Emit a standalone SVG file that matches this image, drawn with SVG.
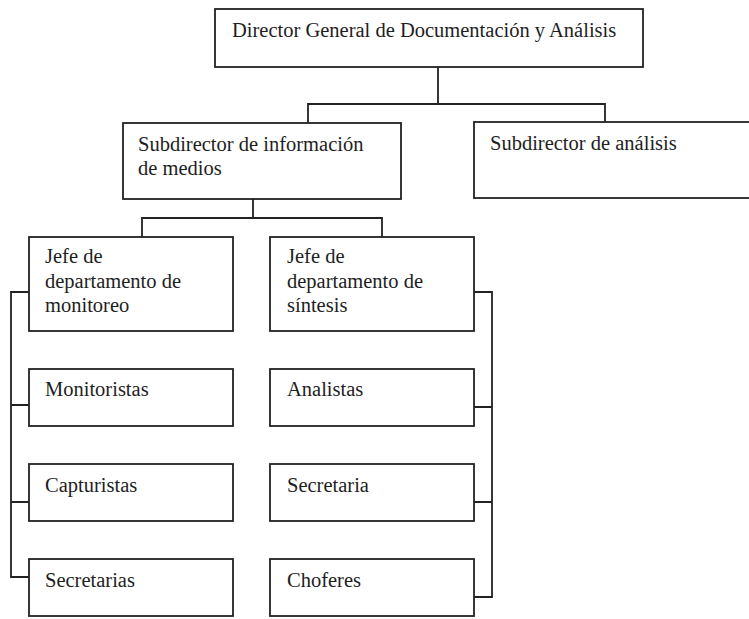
<svg xmlns="http://www.w3.org/2000/svg" width="749" height="619" viewBox="0 0 749 619">
<style>
.box{fill:#fff;stroke:#222;stroke-width:1.8}
.t{font-family:"Liberation Serif","Times New Roman",serif;font-size:20.5px;fill:#1e1e1e}
.c{fill:none;stroke:#222;stroke-width:1.8}
</style>
<rect width="749" height="619" fill="#fff"/>
<g id="connectors">
<path class="c" d="M438 67V104M308 123V104H605V122"/>
<path class="c" d="M253 199V218M142 237V218H382V237"/>
<path class="c" d="M29 292H11V577H29M11 405H29M11 502H29"/>
<path class="c" d="M474 292H492V597H474M492 407H474M492 502H474"/>
</g>
<g id="director"><rect class="box" x="215" y="9" width="428" height="58"/><text class="t" x="232" y="37">Director General de Documentación y Análisis</text></g>
<g id="sub-info"><rect class="box" x="123" y="123" width="278" height="76"/><text class="t" x="138" y="151">Subdirector de información</text><text class="t" x="138" y="175">de medios</text></g>
<g id="sub-analisis"><rect class="box" x="474" y="122" width="280" height="76"/><text class="t" x="490" y="150">Subdirector de análisis</text></g>
<g id="jefe-monitoreo"><rect class="box" x="29" y="237" width="204" height="94"/><text class="t" x="45" y="263">Jefe de</text><text class="t" x="45" y="287.5">departamento de</text><text class="t" x="45" y="312">monitoreo</text></g>
<g id="jefe-sintesis"><rect class="box" x="270" y="237" width="204" height="94"/><text class="t" x="287" y="263">Jefe de</text><text class="t" x="287" y="287.5">departamento de</text><text class="t" x="287" y="312">síntesis</text></g>
<g id="monitoristas"><rect class="box" x="29" y="369" width="204" height="57"/><text class="t" x="45" y="396">Monitoristas</text></g>
<g id="capturistas"><rect class="box" x="29" y="464" width="204" height="57"/><text class="t" x="45" y="492">Capturistas</text></g>
<g id="secretarias"><rect class="box" x="29" y="559" width="204" height="57"/><text class="t" x="45" y="587">Secretarias</text></g>
<g id="analistas"><rect class="box" x="270" y="369" width="204" height="57"/><text class="t" x="287" y="396">Analistas</text></g>
<g id="secretaria"><rect class="box" x="270" y="464" width="204" height="57"/><text class="t" x="287" y="492">Secretaria</text></g>
<g id="choferes"><rect class="box" x="270" y="559" width="204" height="57"/><text class="t" x="287" y="587">Choferes</text></g>
</svg>
